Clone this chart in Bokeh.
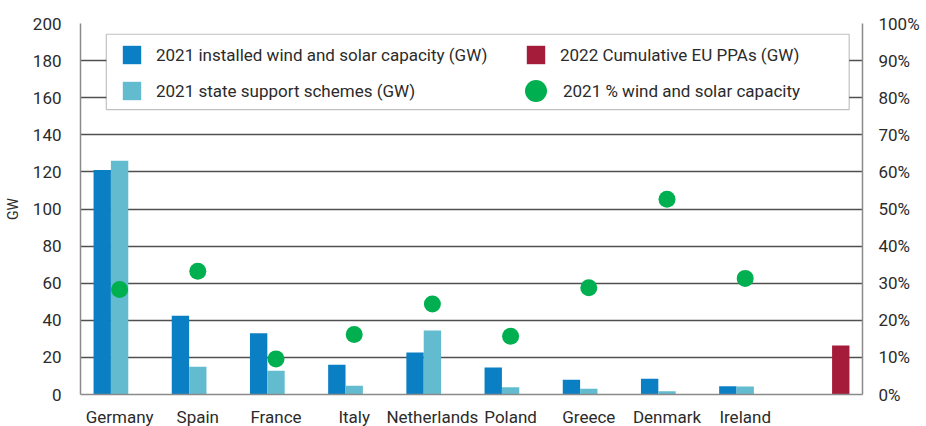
from bokeh.plotting import figure
from bokeh.models import (ColumnDataSource, FactorRange, Range1d, LinearAxis, SingleIntervalTicker,
                          PrintfTickFormatter, Legend, LegendItem, BoxAnnotation)
from bokeh.transform import dodge
from bokeh.embed import file_html
from bokeh.resources import INLINE

countries = ["Germany", "Spain", "France", "Italy", "Netherlands", "Poland", "Greece", "Denmark", "Ireland"]
installed_gw = [121, 42.5, 33, 16, 22.6, 14.6, 7.9, 8.5, 4.5]
support_gw = [126, 15, 12.8, 4.7, 34.5, 3.9, 3.1, 1.8, 4.3]
wind_solar_pct = [28.3, 33.2, 9.6, 16.2, 24.4, 15.7, 28.8, 52.6, 31.3]
ppa_category = [" "]
ppa_gw = [26.4]

C_DARK = "#0a7fc4"
C_LIGHT = "#62bbcf"
C_RED = "#a51c3a"
C_GREEN = "#00b050"
FONT = "Roboto"
TXT = "#2b2b2b"

FW, FH = 782, 371

factors = countries + ppa_category
src = ColumnDataSource(dict(cat=countries, inst=installed_gw, sup=support_gw, pct=wind_solar_pct))
src_ppa = ColumnDataSource(dict(cat=ppa_category, ppa=ppa_gw))

p = figure(frame_width=FW, frame_height=FH, x_range=FactorRange(factors=factors), y_range=Range1d(0, 200),
           output_backend="svg", toolbar_location=None,
           min_border_left=80, min_border_right=40, min_border_top=23, min_border_bottom=10)
p.outline_line_color = None
p.extra_y_ranges = {"pct": Range1d(0, 100)}

w = 0.222
r1 = p.vbar(x=dodge("cat", -w, range=p.x_range), top="inst", width=w, source=src,
            fill_color=C_DARK, line_color=None)
r2 = p.vbar(x=dodge("cat", 0, range=p.x_range), top="sup", width=w, source=src,
            fill_color=C_LIGHT, line_color=None)
r3 = p.vbar(x=dodge("cat", w, range=p.x_range), top="ppa", width=w, source=src_ppa,
            fill_color=C_RED, line_color=None)
r4 = p.scatter(x="cat", y="pct", y_range_name="pct", source=src, size=17,
               fill_color=C_GREEN, line_color=None)

# axes
p.yaxis.ticker = SingleIntervalTicker(interval=20, num_minor_ticks=0)
p.yaxis.axis_label = "GW"
p.yaxis.axis_label_text_font = FONT
p.yaxis.axis_label_text_font_style = "normal"
p.yaxis.axis_label_text_font_size = "14px"
p.yaxis.axis_label_text_color = TXT
p.yaxis.axis_label_standoff = 9

raxis = LinearAxis(y_range_name="pct", ticker=SingleIntervalTicker(interval=10, num_minor_ticks=0),
                   formatter=PrintfTickFormatter(format="%d%%"))
p.add_layout(raxis, "right")

for ax in [p.xaxis[0], p.yaxis[0], raxis]:
    ax.major_tick_line_color = None
    ax.minor_tick_line_color = None
    ax.axis_line_color = "#8a8a8a"
    ax.axis_line_width = 1.5
    ax.major_label_text_font = FONT
    ax.major_label_text_font_size = "17px"
    ax.major_label_text_color = TXT
p.yaxis[0].major_label_standoff = 13
raxis.major_label_standoff = 10
p.xaxis.major_label_standoff = 6

p.xgrid.grid_line_color = None
p.ygrid.grid_line_color = "#505050"
p.ygrid.grid_line_width = 1.3

# legend box
box = BoxAnnotation(left=0.33, right=9.83, bottom=153.6, top=194.2,
                    fill_color="white", fill_alpha=1.0, line_color="#333333", line_width=1.2)
p.add_layout(box)

def mk_legend(items, loc, gw=23, gh=23, standoff=13):
    lg = Legend(items=items, location=loc, orientation="vertical",
                border_line_color=None, background_fill_alpha=0.0,
                padding=0, margin=0, spacing=13,
                glyph_width=gw, glyph_height=gh, label_standoff=standoff,
                label_text_font=FONT, label_text_font_size="17px", label_text_color=TXT)
    return lg

top1 = FH - 20 - 59
lg1 = mk_legend([LegendItem(label="2021 installed wind and solar capacity (GW)", renderers=[r1]),
                 LegendItem(label="2021 state support schemes (GW)", renderers=[r2])], (40, top1))
lg2 = mk_legend([LegendItem(label="2022 Cumulative EU PPAs (GW)", renderers=[r3])], (444, top1 + 36))
lg3 = mk_legend([LegendItem(label="2021 % wind and solar capacity", renderers=[r4])],
                (428, top1 - 16), gw=55, gh=55, standoff=0)
p.add_layout(lg1, "center")
p.add_layout(lg2, "center")
p.add_layout(lg3, "center")

open("out.html", "w").write(file_html(p, INLINE))
